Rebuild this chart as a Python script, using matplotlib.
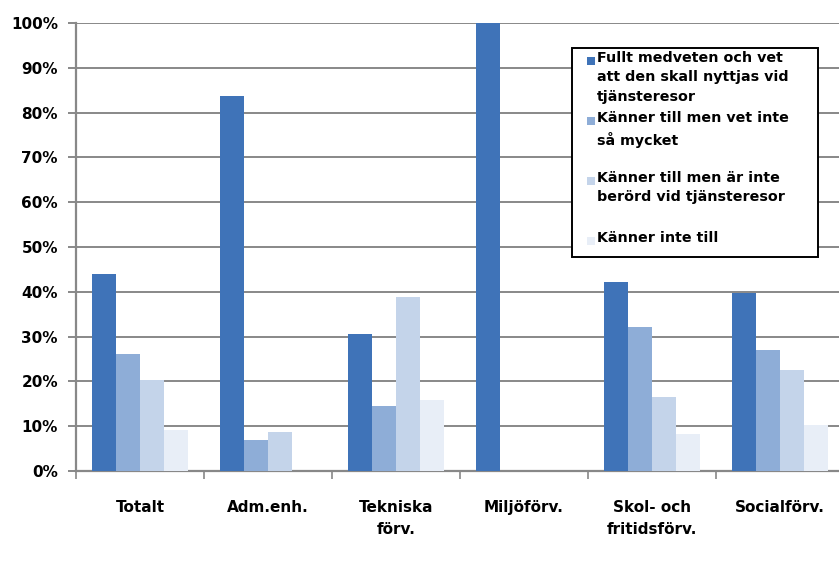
import matplotlib
matplotlib.use('Agg')
import numpy as np
import matplotlib.pyplot as plt
from matplotlib.patches import Rectangle

categories = ["Totalt", "Adm.enh.", "Tekniska\nförv.", "Miljöförv.", "Skol- och\nfritidsförv.", "Socialförv."]
series_names = ["Fullt medveten och vet\natt den skall nyttjas vid\ntjänsteresor",
                "Känner till men vet inte\nså mycket",
                "Känner till men är inte\nberörd vid tjänsteresor",
                "Känner inte till"]
fullt = [44.0, 83.8, 30.6, 100.0, 42.2, 39.8]
vet_inte = [26.1, 6.9, 14.5, 0.0, 32.2, 27.0]
ej_berord = [20.3, 8.6, 38.9, 0.0, 16.6, 22.6]
kanner_inte = [9.1, 0.0, 15.9, 0.0, 8.2, 10.3]
series = [fullt, vet_inte, ej_berord, kanner_inte]
colors = ["#3F73B8", "#8EADD7", "#C4D4EA", "#E8EEF7"]
yticks = [0, 10, 20, 30, 40, 50, 60, 70, 80, 90, 100]

grid_c = "#888888"
fig = plt.figure(figsize=(8.39, 5.63), dpi=100)
ax = fig.add_axes([76/839, 92/563, 768/839, 448/563])

x = np.arange(len(categories))
w = 0.1875
for k, vals in enumerate(series):
    ax.bar(x + (k - 1.5)*w, vals, width=w, color=colors[k], zorder=3, linewidth=0)

ax.set_xlim(-0.5, len(categories) - 0.5)
ax.set_ylim(0, 100)
ax.set_yticks(yticks)
ax.set_yticklabels(["%d%%" % v for v in yticks], fontsize=11, fontweight="bold")
ax.yaxis.grid(True, color=grid_c, linewidth=1.4, zorder=0)
ax.tick_params(axis="y", length=6, width=1.4, color=grid_c, pad=7)

ax.set_xticks(np.arange(len(categories) + 1) - 0.5)
ax.set_xticklabels([])
ax.set_xticks(x, minor=True)
ax.set_xticklabels(categories, minor=True, fontsize=11, fontweight="bold", linespacing=1.55)
ax.tick_params(axis="x", which="major", length=6, width=1.2, color=grid_c)
ax.tick_params(axis="x", which="minor", length=0, pad=21)

for s in ["top", "right"]:
    ax.spines[s].set_visible(False)
for s in ["left", "bottom"]:
    ax.spines[s].set_color(grid_c)
    ax.spines[s].set_linewidth(1.6)

# legend drawn by hand to get the excel look
W, H = 839.0, 563.0
fig.patches.append(Rectangle((572/W, 1 - 257/H), 246/W, 209/H, transform=fig.transFigure,
                             facecolor="white", edgecolor="black", linewidth=1.4, zorder=10))
ys = [53, 113, 173, 233]
for k, name in enumerate(series_names):
    fig.patches.append(Rectangle((587/W, 1 - (ys[k] + 12)/H), 8/W, 8/H, transform=fig.transFigure,
                                 facecolor=colors[k], edgecolor="none", zorder=11))
    fig.text(597/W, 1 - (ys[k] - 2)/H, name, fontsize=10.3, fontweight="bold", va="top", ha="left",
             linespacing=1.5, zorder=12)

plt.savefig("out.png", dpi=100)
